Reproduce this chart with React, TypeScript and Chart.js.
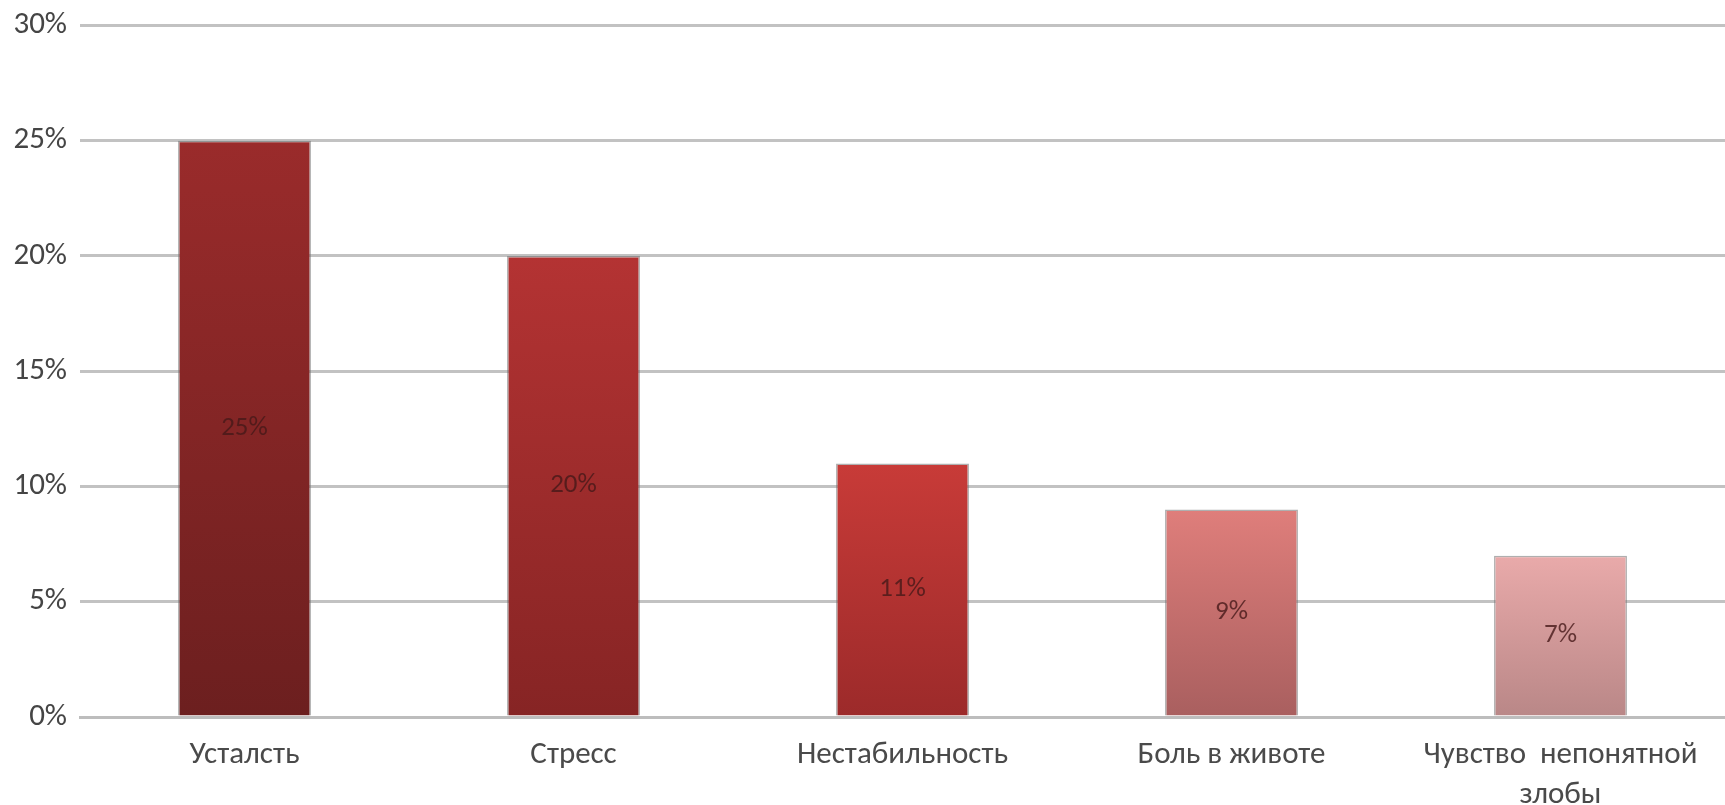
import { useEffect, useRef } from 'react';
import { Chart, registerables, Plugin } from 'chart.js';

Chart.register(...registerables);

const categories: (string | string[])[] = [
  'Усталсть',
  'Стресс',
  'Нестабильность',
  'Боль в животе',
  ['Чувство  непонятной', 'злобы'],
];
const values = [25, 20, 11, 9, 7];
const yTicks = [0, 5, 10, 15, 20, 25, 30];

// top / bottom of each bar's gradient
const topColors = ['#9a2b2b', '#b43333', '#c83b38', '#df7e7b', '#e9aaaa'];
const bottomColors = ['#6c1f1f', '#862424', '#9c2a2a', '#a95f5f', '#b98787'];

const FONT = 'Calibri, Carlito, Lato, sans-serif';

const barLabels: Plugin<'bar'> = {
  id: 'barLabels',
  afterDatasetsDraw(chart) {
    const { ctx } = chart;
    const meta = chart.getDatasetMeta(0);
    ctx.save();
    ctx.font = `27px ${FONT}`;
    ctx.fillStyle = 'rgba(70, 25, 25, 0.8)';
    ctx.textAlign = 'center';
    ctx.textBaseline = 'middle';
    meta.data.forEach((el: any, i) => {
      const { x, y, base } = el.getProps(['x', 'y', 'base'], true);
      ctx.fillText(`${values[i]}%`, x, (y + base) / 2);
    });
    ctx.restore();
  },
};

export default function App() {
  const canvasRef = useRef<HTMLCanvasElement>(null);
  const chartRef = useRef<Chart | null>(null);

  useEffect(() => {
    document.body.style.margin = '0';
    if (!canvasRef.current) return;
    if (chartRef.current) chartRef.current.destroy();

    chartRef.current = new Chart(canvasRef.current, {
      type: 'bar',
      data: {
        labels: categories,
        datasets: [
          {
            data: values,
            backgroundColor: (c: any) => {
              const chart = c.chart;
              const i = c.dataIndex;
              if (!chart.chartArea || i === undefined) return topColors[i ?? 0];
              const y = chart.scales.y;
              const g = chart.ctx.createLinearGradient(0, y.getPixelForValue(values[i]), 0, y.getPixelForValue(0));
              g.addColorStop(0, topColors[i]);
              g.addColorStop(1, bottomColors[i]);
              return g;
            },
            borderColor: 'rgba(110, 110, 110, 0.55)',
            borderWidth: 1.5,
            categoryPercentage: 1,
            barPercentage: 0.404,
          },
        ],
      },
      options: {
        responsive: false,
        animation: false,
        layout: { padding: { top: 0, right: 0, left: 0, bottom: 0 } },
        plugins: {
          legend: { display: false },
          tooltip: { enabled: false },
        },
        scales: {
          x: {
            grid: { display: false, drawTicks: false },
            border: { color: '#bdbdbd', width: 3 },
            ticks: {
              color: '#4a4a4a',
              font: { family: FONT, size: 31, lineHeight: 1.3 },
              padding: 18,
              maxRotation: 0,
              autoSkip: false,
            },
            afterFit: (s: any) => {
              s.height = 88;
            },
          },
          y: {
            min: 0,
            max: 30,
            afterBuildTicks: (s: any) => {
              s.ticks = yTicks.map((v) => ({ value: v }));
            },
            grid: { color: '#c2c2c2', lineWidth: 3, drawTicks: false },
            border: { display: false },
            ticks: {
              color: '#454545',
              font: { family: FONT, size: 31, lineHeight: 0.8 },
              padding: 13,
              callback: (v: any) => `${v}%`,
            },
            afterFit: (s: any) => {
              s.width = 80;
            },
          },
        },
      },
      plugins: [barLabels],
    });

    return () => {
      if (chartRef.current) {
        chartRef.current.destroy();
        chartRef.current = null;
      }
    };
  }, []);

  return (
    <div style={{ width: 1725, height: 805, background: '#fff' }}>
      <canvas ref={canvasRef} width={1725} height={805} />
    </div>
  );
}
